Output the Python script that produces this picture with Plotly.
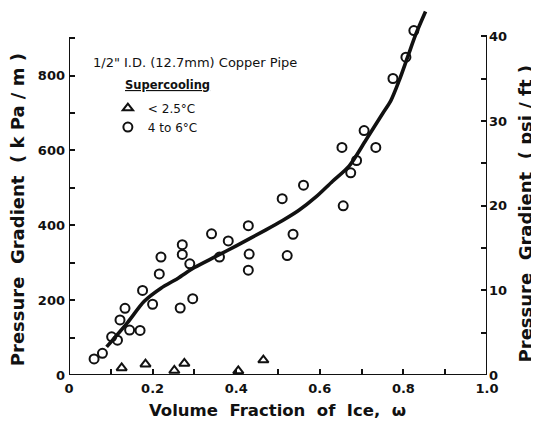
import plotly.graph_objects as go

# ---- data ----
# circles: supercooling 4 to 6 °C
w_circ = [0.060, 0.080, 0.102, 0.116, 0.122, 0.134, 0.145, 0.170, 0.176, 0.200,
          0.216, 0.220, 0.266, 0.271, 0.271, 0.289, 0.296, 0.341, 0.360, 0.381,
          0.429, 0.431, 0.429, 0.510, 0.522, 0.536, 0.561, 0.653, 0.656, 0.674,
          0.688, 0.706, 0.734, 0.775, 0.806, 0.825]
p_circ = [43, 58, 102, 93, 147, 178, 120, 119, 226, 189,
          270, 315, 179, 322, 348, 297, 204, 377, 315, 358,
          399, 323, 280, 471, 319, 376, 507, 608, 452, 540,
          573, 653, 608, 792, 849, 920]
# triangles: supercooling < 2.5 °C
w_tri = [0.126, 0.183, 0.252, 0.276, 0.405, 0.465]
p_tri = [19, 29, 12, 31, 11, 40]
# fitted curve
w_fit = [0.09, 0.14, 0.18, 0.22, 0.26, 0.30, 0.35, 0.40, 0.47, 0.51, 0.55,
         0.59, 0.63, 0.67, 0.71, 0.75, 0.77, 0.79, 0.81, 0.83, 0.853]
p_fit = [75, 140, 197, 232, 258, 287, 316, 345, 387, 412, 440,
         475, 517, 558, 627, 698, 733, 787, 849, 911, 971]

x_ticks = [0, 0.1, 0.2, 0.3, 0.4, 0.5, 0.6, 0.7, 0.8, 0.9, 1.0]
x_ticktext = ["0", "", "0.2", "", "0.4", "", "0.6", "", "0.8", "", "1.0"]
y_ticks = [0, 100, 200, 300, 400, 500, 600, 700, 800, 900]
y_ticktext = ["0", "", "200", "", "400", "", "600", "", "800", ""]
y2_ticks = [0, 5, 10, 15, 20, 25, 30, 35, 40]
y2_ticktext = ["0", "", "10", "", "20", "", "30", "", "40"]

KPA_PER_PSIFT = 22.6206
Y_MAX = 975
LEFT_TOP = 900
RIGHT_TOP_PSI = 40

FONT = "DejaVu Sans"
INK = "#111111"

fig = go.Figure()

fig.add_trace(go.Scatter(x=w_fit, y=p_fit, mode="lines",
                         line=dict(color=INK, width=3.6, shape="spline", smoothing=0.8),
                         showlegend=False, hoverinfo="skip"))
fig.add_trace(go.Scatter(x=w_tri, y=p_tri, mode="markers", name="&lt; 2.5°C",
                         marker=dict(symbol="triangle-up-open", size=9, color=INK, line=dict(width=2, color=INK)),
                         cliponaxis=False))
fig.add_trace(go.Scatter(x=w_circ, y=p_circ, mode="markers", name="4 to 6°C",
                         marker=dict(symbol="circle-open", size=9, color=INK, line=dict(width=2, color=INK)),
                         cliponaxis=False))
# invisible trace for the secondary axis
fig.add_trace(go.Scatter(x=[0], y=[0], yaxis="y2", mode="markers", marker=dict(opacity=0),
                         showlegend=False, hoverinfo="skip"))

axis_common = dict(showgrid=False, zeroline=False, showline=False, ticks="inside", ticklen=6,
                   tickwidth=1.5, tickcolor=INK, automargin=False,
                   tickfont=dict(family=FONT, size=13, color=INK, weight="bold"))

title_font = dict(family=FONT, size=18, color=INK)

fig.update_layout(
    width=531, height=418,
    margin=dict(l=61, r=52, t=2, b=51, autoexpand=False),
    paper_bgcolor="white", plot_bgcolor="white",
    xaxis=dict(range=[0, 1.0], tickmode="array", tickvals=x_ticks, ticktext=x_ticktext,
               ticklabelstandoff=4, **axis_common),
    yaxis=dict(range=[0, Y_MAX], tickmode="array", tickvals=y_ticks, ticktext=y_ticktext,
               ticklabelstandoff=3, **axis_common),
    yaxis2=dict(range=[0, Y_MAX / KPA_PER_PSIFT], overlaying="y", side="right", tickmode="array",
                tickvals=y2_ticks, ticktext=y2_ticktext, ticklabelstandoff=1, **axis_common),
    showlegend=True,
    legend=dict(x=0.093, y=0.771, xanchor="left", yanchor="top", bgcolor="rgba(0,0,0,0)",
                font=dict(family=FONT, size=12, color=INK), itemwidth=30, tracegroupgap=0),
    annotations=[
        dict(text='1/2" I.D. (12.7mm) Copper Pipe', x=0.053, y=0.855, xref="paper", yref="paper",
             xanchor="left", yanchor="middle", showarrow=False, font=dict(family=FONT, size=13, color=INK)),
        dict(text='<b><u>Supercooling</u></b>', x=0.129, y=0.795, xref="paper", yref="paper",
             xanchor="left", yanchor="middle", showarrow=False, font=dict(family=FONT, size=11.5, color=INK)),
        dict(text="<b>Volume  Fraction  of  Ice,  ω</b>", x=0.498, y=-0.096, xref="paper", yref="paper",
             xanchor="center", yanchor="middle", showarrow=False, font=dict(family=FONT, size=16.5, color=INK)),
        dict(text="<b>Pressure  Gradient  ( k Pa / m )</b>", x=-0.124, y=0.452, xref="paper", yref="paper",
             xanchor="center", yanchor="middle", textangle=-90, showarrow=False, font=title_font),
        dict(text="<b>Pressure  Gradient  ( psi / ft )</b>", x=1.091, y=0.44, xref="paper", yref="paper",
             xanchor="center", yanchor="middle", textangle=-90, showarrow=False, font=title_font),
    ],
    shapes=[
        dict(type="line", xref="x", yref="y", x0=0, x1=0, y0=0, y1=LEFT_TOP, line=dict(color=INK, width=2)),
        dict(type="line", xref="x", yref="y", x0=0, x1=1, y0=0, y1=0, line=dict(color=INK, width=2)),
        dict(type="line", xref="x", yref="y2", x0=1, x1=1, y0=0, y1=RIGHT_TOP_PSI, line=dict(color=INK, width=2)),
    ],
)

fig.write_html("out.html")
